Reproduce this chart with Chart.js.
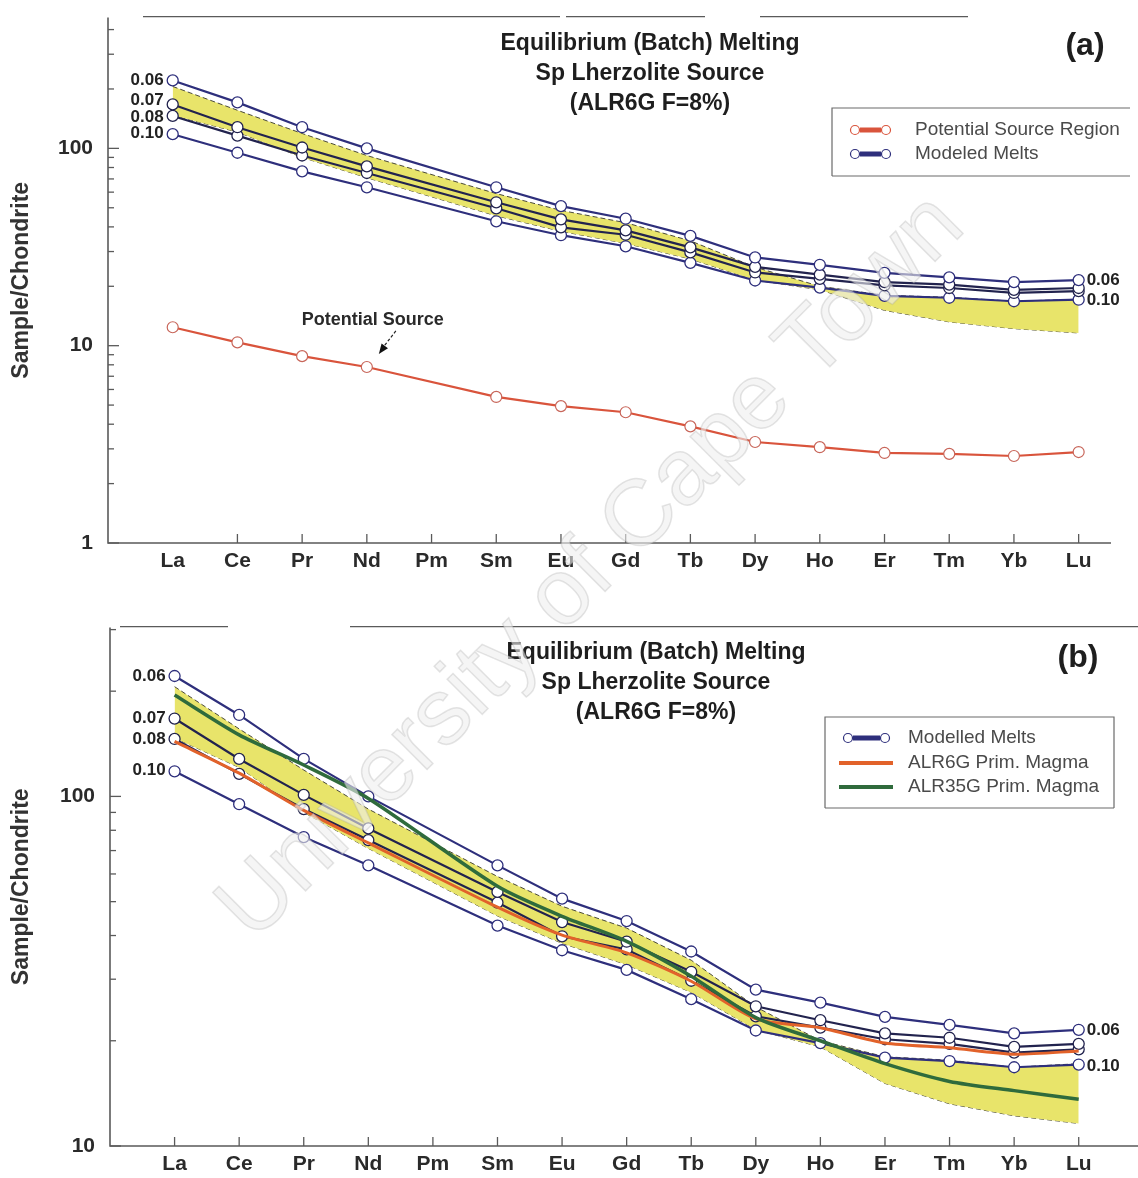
<!DOCTYPE html>
<html>
<head>
<meta charset="utf-8">
<title>Equilibrium (Batch) Melting – Sp Lherzolite Source</title>
<script src="https://cdn.jsdelivr.net/npm/chart.js@4.4.1/dist/chart.umd.min.js"></script>
<style>
  html, body { margin: 0; padding: 0; background: #ffffff; }
  #wrap { position: relative; width: 1138px; height: 1178px; overflow: hidden; background: #fff; }
  #ca { position: absolute; left: 0; top: -10px; }
  #cb { position: absolute; left: 0; top: 600px; }
  #wm { position: absolute; left: 0; top: 0; pointer-events: none; }
</style>
</head>
<body>
<div id="wrap">
  <canvas id="ca" width="1138" height="610"></canvas>
  <canvas id="cb" width="1138" height="578"></canvas>
  <canvas id="wm" width="1138" height="1178"></canvas>
</div>
<script>
// Rare earth elements, in order of atomic number (Pm has no data)
const ELEMENTS = ['La','Ce','Pr','Nd','Pm','Sm','Eu','Gd','Tb','Dy','Ho','Er','Tm','Yb','Lu'];

// Modelled batch melts of the spinel lherzolite source, chondrite-normalised, per melt fraction F
const MELT_F006 = [221, 171, 128, 100, null, 63.5, 51, 44, 36, 28, 25.7, 23.4, 22.2, 21.0, 21.5];
const MELT_F007 = [167, 128, 101, 81, null, 53.3, 43.7, 38.4, 31.5, 25.1, 22.9, 21.0, 20.4, 19.2, 19.6];
const MELT_F008 = [146, 116, 92, 75, null, 49.7, 39.8, 36.5, 29.7, 23.5, 21.8, 20.2, 19.6, 18.5, 18.9];
const MELT_F010 = [118, 95, 76.5, 63.5, null, 42.7, 36.3, 31.9, 26.3, 21.4, 19.7, 17.9, 17.5, 16.8, 17.1];
const MELT_LABELS = ['0.06', '0.07', '0.08', '0.10'];

// Potential source region
const SOURCE = [12.4, 10.4, 8.85, 7.8, null, 5.5, 4.94, 4.6, 3.9, 3.25, 3.06, 2.86, 2.83, 2.76, 2.89];

// Envelope of the sample compositions (shaded field)
const RANGE_UPPER = [206, 156, 119, 92, null, 59, 48.5, 42, 34, 25, 20, 18, 17.6, 16.8, 17.2];
const RANGE_LOWER = [147, 121, 90, 71, null, 45.5, 38, 33, 27.5, 21.5, 19.2, 15.1, 13.2, 12.2, 11.6];

// Primitive magmas
const ALR6G = [143.6, 116.6, 91.2, 73.6, null, 48.2, 40.1, 35.7, 29.6, 23.1, 21.8, 19.7, 19.1, 18.3, 18.7];
const ALR35G = [195, 150, 123, 98.7, null, 55.3, 45.4, 38.5, 30.6, 23.3, 20.0, 17.2, 15.3, 14.4, 13.6];

// Axis ticks
const Y_TICKS_A = [1, 10, 100];
const Y_TICKS_B = [10, 100];

const FONT = '"Liberation Sans", Arial, Helvetica, sans-serif';
const NAVY = '#2e2f7c';
const NAVY_DARK = '#22234e';
const RED = '#d9543c';
const ORANGE = '#e2622a';
const GREEN = '#2f6b3c';
const YELLOW = '#e8e46a';
const AXIS = '#5a5a5a';

const pts = arr => arr.map((v, i) => ({ x: i, y: v }));

function meltSet(values, color) {
  return {
    data: pts(values), borderColor: color, borderWidth: 2.2,
    pointRadius: 5.5, pointBorderWidth: 1.3, pointBackgroundColor: '#ffffff', pointBorderColor: color,
    spanGaps: true, fill: false, order: 3
  };
}
function rangeSets() {
  return [
    { data: pts(RANGE_UPPER), borderColor: '#4a4a3a', borderWidth: 1, borderDash: [5, 3], pointRadius: 0,
      spanGaps: true, fill: '+1', backgroundColor: YELLOW, order: 10 },
    { data: pts(RANGE_LOWER), borderColor: '#4a4a3a', borderWidth: 1, borderDash: [5, 3], pointRadius: 0,
      spanGaps: true, fill: false, order: 10 }
  ];
}
function meltSets() {
  return [
    meltSet(MELT_F006, NAVY), meltSet(MELT_F007, NAVY_DARK),
    meltSet(MELT_F008, NAVY_DARK), meltSet(MELT_F010, NAVY)
  ];
}

// Axes, inward ticks, titles, labels and legend
const panelDecor = {
  id: 'panelDecor',
  beforeDatasetsDraw(chart, args, o) {
    const { ctx, chartArea: a, scales: { x, y } } = chart;
    ctx.save();
    ctx.strokeStyle = AXIS;
    ctx.lineWidth = 1.6;
    ctx.beginPath();
    ctx.moveTo(a.left, a.top);
    ctx.lineTo(a.left, a.bottom);
    ctx.lineTo(o.xAxisEnd, a.bottom);
    ctx.stroke();
    ctx.lineWidth = 1.3;
    o.topLine.forEach(([x0, x1]) => {
      ctx.beginPath(); ctx.moveTo(x0, a.top - 1); ctx.lineTo(x1, a.top - 1); ctx.stroke();
    });
    ELEMENTS.forEach((_, i) => {
      if (i < o.firstXTick) return;
      const px = x.getPixelForValue(i);
      ctx.beginPath(); ctx.moveTo(px, a.bottom); ctx.lineTo(px, a.bottom - 9); ctx.stroke();
    });
    const k0 = Math.floor(Math.log10(y.min)), k1 = Math.ceil(Math.log10(y.max));
    for (let k = k0; k <= k1; k++) {
      for (let m = 1; m <= 9; m++) {
        const v = m * Math.pow(10, k);
        if (v < y.min * 0.999 || v > y.max) continue;
        const py = y.getPixelForValue(v);
        ctx.beginPath(); ctx.moveTo(a.left, py); ctx.lineTo(a.left + (m === 1 ? 11 : 6), py); ctx.stroke();
      }
    }
    ctx.restore();
  },
  afterDatasetsDraw(chart, args, o) {
    const { ctx } = chart;
    ctx.save();
    // title block
    ctx.fillStyle = '#1e1e1e';
    ctx.textAlign = 'center';
    ctx.textBaseline = 'middle';
    ctx.font = 'bold 23px ' + FONT;
    o.title.forEach((line, i) => ctx.fillText(line, o.titleX, o.titleY + i * 30));
    ctx.font = '600 32px ' + FONT;
    ctx.fillText(o.tag, o.tagX, o.tagY);

    // melt fraction labels
    ctx.font = 'bold 17px ' + FONT;
    ctx.fillStyle = '#222';
    ctx.textAlign = 'right';
    o.meltIndex.forEach((di, j) => {
      const p = chart.getDatasetMeta(di).data[0];
      ctx.fillText(MELT_LABELS[j], p.x - 9, p.y + (o.leftShift[j] || 0));
    });
    ctx.textAlign = 'left';
    [[o.meltIndex[0], MELT_LABELS[0], o.rightShift[0]], [o.meltIndex[3], MELT_LABELS[3], o.rightShift[1]]]
      .forEach(([di, txt, dy]) => {
        const d = chart.getDatasetMeta(di).data;
        const p = d[d.length - 1];
        ctx.fillText(txt, p.x + 8, p.y + dy);
      });

    // source annotation
    if (o.sourceIndex !== undefined) {
      const p = chart.getDatasetMeta(o.sourceIndex).data[3];
      ctx.font = 'bold 18px ' + FONT;
      ctx.fillStyle = '#2a2a2a';
      ctx.textAlign = 'center';
      ctx.fillText('Potential Source', p.x + 6, p.y - 47);
      const tx = p.x + 12, ty = p.y - 13, sx = p.x + 29, sy = p.y - 36;
      ctx.strokeStyle = '#222'; ctx.lineWidth = 1.2; ctx.setLineDash([3, 2]);
      ctx.beginPath(); ctx.moveTo(sx, sy); ctx.lineTo(tx + 3, ty - 5); ctx.stroke();
      ctx.setLineDash([]);
      const ang = Math.atan2(ty - sy, tx - sx);
      ctx.fillStyle = '#111';
      ctx.beginPath();
      ctx.moveTo(tx, ty);
      ctx.lineTo(tx - 10 * Math.cos(ang) + 4 * Math.sin(ang), ty - 10 * Math.sin(ang) - 4 * Math.cos(ang));
      ctx.lineTo(tx - 10 * Math.cos(ang) - 4 * Math.sin(ang), ty - 10 * Math.sin(ang) + 4 * Math.cos(ang));
      ctx.closePath(); ctx.fill();
    }

    // legend
    const L = o.legend;
    ctx.strokeStyle = '#6a6a6a'; ctx.lineWidth = 1.2;
    const [bx0, by0, bx1, by1] = L.box;
    ctx.beginPath();
    ctx.moveTo(bx0, by1); ctx.lineTo(bx0, by0); ctx.lineTo(bx1, by0);
    if (L.rightSide) ctx.lineTo(bx1, by1);
    ctx.moveTo(bx0, by1); ctx.lineTo(bx1, by1);
    ctx.stroke();
    ctx.save();
    ctx.beginPath(); ctx.rect(bx0, by0, L.clipX - bx0, by1 - by0); ctx.clip();
    ctx.font = '19px ' + FONT;
    ctx.textAlign = 'left';
    ctx.textBaseline = 'middle';
    L.items.forEach(it => {
      if (it.kind === 'pts') {
        ctx.fillStyle = it.color;
        ctx.fillRect(L.symX[0] + 5, it.y - 2.5, L.symX[1] - L.symX[0] - 10, 5);
        [L.symX[0], L.symX[1]].forEach(cx => {
          ctx.beginPath(); ctx.arc(cx, it.y, 4.5, 0, Math.PI * 2);
          ctx.fillStyle = '#fff'; ctx.fill();
          ctx.strokeStyle = it.color; ctx.lineWidth = 1.2; ctx.stroke();
        });
      } else {
        ctx.strokeStyle = it.color; ctx.lineWidth = 4;
        ctx.beginPath(); ctx.moveTo(L.lineX[0], it.y); ctx.lineTo(L.lineX[1], it.y); ctx.stroke();
      }
      ctx.fillStyle = '#4a4a4a';
      ctx.fillText(it.text, L.textX, it.y);
    });
    ctx.restore();
    ctx.restore();
  }
};

function makeOptions(c) {
  return {
    responsive: false,
    animation: false,
    devicePixelRatio: 1,
    events: [],
    layout: { padding: { top: c.padTop, right: c.padRight, left: 0, bottom: 0 } },
    plugins: { legend: { display: false }, tooltip: { enabled: false }, panelDecor: c.decor },
    scales: {
      x: {
        type: 'linear', min: -1, max: 14.5,
        grid: { display: false, drawTicks: false }, border: { display: false },
        afterBuildTicks: s => { s.ticks = ELEMENTS.map((_, i) => ({ value: i })); },
        afterFit: s => { s.height = c.xHeight; },
        ticks: {
          autoSkip: false, maxRotation: 0, minRotation: 0, padding: 6, color: '#2a2a2a',
          font: { family: FONT, size: 21, weight: 'bold' },
          callback: v => ELEMENTS[v] ?? ''
        }
      },
      y: {
        type: 'logarithmic', min: c.yMin, max: c.yMax,
        grid: { display: false, drawTicks: false }, border: { display: false },
        afterBuildTicks: s => { s.ticks = c.yTicks.map(v => ({ value: v })); },
        afterFit: s => { s.width = c.yWidth; },
        ticks: {
          padding: 15, color: '#2a2a2a', font: { family: FONT, size: 21, weight: 'bold' },
          callback: v => String(v)
        },
        title: {
          display: true, text: 'Sample/Chondrite', color: '#333',
          font: { family: FONT, size: 23, weight: 'bold' }, padding: { top: 8, bottom: 0 }
        }
      }
    }
  };
}

// Panel (a): source region and modelled melts
const dataA = [
  ...rangeSets(),
  ...meltSets(),
  { data: pts(SOURCE), borderColor: RED, borderWidth: 2.2, pointRadius: 5.5, pointBorderWidth: 1.2,
    pointBackgroundColor: '#fff', pointBorderColor: '#c8665a', spanGaps: true, fill: false, order: 2 }
];
new Chart(document.getElementById('ca'), {
  type: 'line',
  data: { datasets: dataA },
  options: makeOptions({
    padTop: 17, padRight: 27, xHeight: 57, yWidth: 108, yMin: 1, yMax: 460, yTicks: Y_TICKS_A,
    decor: {
      xAxisEnd: 1111, topLine: [[143, 560], [566, 705], [760, 968]], firstXTick: 1,
      title: ['Equilibrium (Batch) Melting', 'Sp Lherzolite Source', '(ALR6G F=8%)'],
      titleX: 650, titleY: 54, tag: '(a)', tagX: 1085, tagY: 56,
      meltIndex: [2, 3, 4, 5], leftShift: [0, -4, 1, -1], rightShift: [0, 1],
      sourceIndex: 6,
      legend: {
        box: [832, 118, 1130, 186], rightSide: false, clipX: 1123,
        symX: [855, 886], lineX: [846, 895], textX: 915,
        items: [
          { kind: 'pts', color: RED, text: 'Potential Source Region', y: 140 },
          { kind: 'pts', color: NAVY, text: 'Modeled Melts', y: 164 }
        ]
      }
    }
  }),
  plugins: [panelDecor]
});

// Panel (b): modelled melts against the primitive magmas
const dataB = [
  ...rangeSets(),
  ...meltSets(),
  { data: pts(ALR6G), borderColor: ORANGE, borderWidth: 3, pointRadius: 0, tension: 0.25,
    spanGaps: true, fill: false, order: 1 },
  { data: pts(ALR35G), borderColor: GREEN, borderWidth: 3.5, pointRadius: 0, tension: 0.25,
    spanGaps: true, fill: false, order: 0 }
];
new Chart(document.getElementById('cb'), {
  type: 'line',
  data: { datasets: dataB },
  options: makeOptions({
    padTop: 27, padRight: 27, xHeight: 32, yWidth: 110, yMin: 10, yMax: 304, yTicks: Y_TICKS_B,
    decor: {
      xAxisEnd: 1138, topLine: [[120, 228], [350, 1138]], firstXTick: 0,
      title: ['Equilibrium (Batch) Melting', 'Sp Lherzolite Source', '(ALR6G F=8%)'],
      titleX: 656, titleY: 53, tag: '(b)', tagX: 1078, tagY: 58,
      meltIndex: [2, 3, 4, 5], leftShift: [0, 0, 0, -1], rightShift: [1, 2],
      legend: {
        box: [825, 117, 1114, 208], rightSide: true, clipX: 1114,
        symX: [848, 885], lineX: [839, 893], textX: 908,
        items: [
          { kind: 'pts', color: NAVY, text: 'Modelled Melts', y: 138 },
          { kind: 'line', color: ORANGE, text: 'ALR6G Prim. Magma', y: 163 },
          { kind: 'line', color: GREEN, text: 'ALR35G Prim. Magma', y: 187 }
        ]
      }
    }
  }),
  plugins: [panelDecor]
});

// Institutional watermark across both panels
(function () {
  const c = document.getElementById('wm');
  const ctx = c.getContext('2d');
  const text = 'University of Cape Town';
  ctx.font = '100px ' + FONT;
  const w = ctx.measureText(text).width;
  const size = 100 * 1010 / w;
  ctx.save();
  ctx.translate(592, 568);
  ctx.rotate(-Math.PI / 4);
  ctx.font = size + 'px ' + FONT;
  ctx.textAlign = 'center';
  ctx.textBaseline = 'middle';
  ctx.fillStyle = 'rgba(238,238,238,0.6)';
  ctx.fillText(text, 0, 0);
  ctx.strokeStyle = 'rgba(160,160,160,0.28)';
  ctx.lineWidth = 1.5;
  ctx.strokeText(text, 0, 0);
  ctx.restore();
})();
</script>
</body>
</html>
